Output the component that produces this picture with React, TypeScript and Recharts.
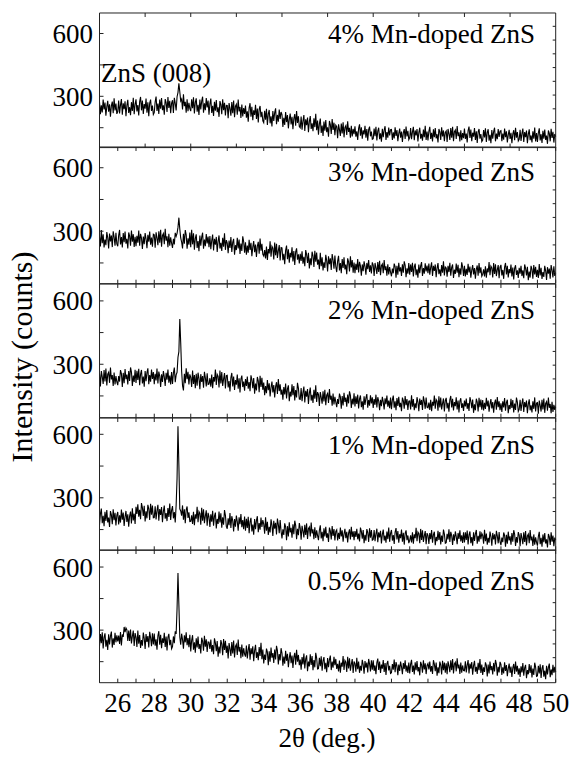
import { LineChart, Line, XAxis, YAxis } from 'recharts';

// 2θ grid: 25.00 .. 50.00 in 0.05° steps
const X_START = 25;
const X_STEP = 0.05;

// intensity (counts), one row per degree (20 points)
const mn4 = [
  273, 214, 257, 223, 285, 237, 270, 207, 250, 278, 226, 262, 203, 254, 275, 219, 290, 233, 265, 216,
  227, 280, 218, 259, 287, 212, 267, 239, 276, 205, 256, 283, 221, 248, 210, 272, 230, 293, 215, 261,
  286, 228, 258, 209, 275, 297, 233, 280, 216, 263, 241, 289, 222, 271, 205, 268, 284, 230, 256, 213,
  222, 274, 299, 230, 265, 216, 284, 241, 292, 234, 257, 212, 287, 270, 225, 296, 244, 279, 219, 267,
  281, 220, 293, 266, 232, 298, 318, 362, 322, 278, 287, 237, 310, 253, 274, 222, 286, 229, 269, 241,
  229, 286, 243, 295, 218, 271, 290, 226, 259, 211, 285, 237, 277, 298, 222, 266, 234, 292, 247, 280,
  212, 264, 289, 220, 255, 206, 274, 231, 282, 224, 247, 202, 277, 260, 215, 286, 234, 269, 209, 257,
  256, 195, 268, 241, 207, 273, 219, 280, 200, 253, 262, 212, 285, 228, 249, 197, 261, 204, 244, 216,
  256, 198, 228, 179, 245, 267, 203, 250, 186, 233, 211, 259, 192, 241, 175, 238, 254, 200, 226, 183,
  174, 231, 188, 240, 163, 216, 235, 171, 204, 156, 230, 182, 222, 243, 167, 211, 179, 237, 192, 225,
  213, 154, 197, 163, 225, 177, 210, 147, 190, 218, 166, 202, 143, 194, 215, 159, 230, 173, 205, 156,
  150, 203, 141, 182, 210, 135, 190, 162, 199, 128, 179, 206, 144, 171, 133, 195, 153, 216, 138, 184,
  117, 169, 194, 125, 160, 111, 179, 136, 187, 129, 152, 107, 182, 165, 120, 191, 139, 174, 114, 162,
  155, 100, 166, 141, 111, 170, 122, 176, 104, 152, 160, 115, 181, 130, 149, 102, 159, 108, 144, 119,
  157, 107, 133, 91, 147, 166, 112, 152, 97, 137, 118, 159, 102, 144, 88, 141, 155, 109, 131, 95,
  98, 146, 110, 154, 89, 134, 150, 95, 123, 83, 145, 105, 139, 157, 92, 129, 102, 151, 113, 141,
  142, 92, 128, 99, 152, 111, 139, 86, 122, 146, 102, 132, 82, 126, 143, 96, 156, 108, 135, 93,
  103, 148, 95, 130, 154, 90, 137, 113, 144, 84, 127, 150, 98, 121, 88, 141, 105, 159, 92, 132,
  89, 133, 154, 96, 126, 84, 142, 105, 148, 99, 119, 80, 144, 130, 92, 152, 108, 137, 86, 127,
  134, 82, 144, 121, 92, 148, 102, 154, 86, 131, 139, 96, 158, 110, 128, 84, 138, 90, 124, 100,
  146, 96, 122, 80, 136, 155, 101, 141, 86, 126, 107, 148, 91, 133, 77, 130, 144, 98, 120, 84,
  91, 139, 103, 147, 82, 127, 143, 88, 116, 76, 139, 98, 132, 150, 85, 122, 95, 144, 106, 134,
  136, 86, 122, 93, 146, 105, 133, 80, 116, 140, 96, 126, 76, 120, 138, 90, 150, 102, 129, 87,
  95, 140, 87, 122, 146, 82, 129, 105, 136, 76, 119, 142, 90, 113, 80, 133, 97, 151, 84, 124,
  82, 126, 147, 89, 119, 77, 135, 98, 141, 92, 112, 73, 137, 123, 85, 145, 101, 130, 79, 120,
  108,
];

const mn3 = [
  274, 228, 306, 243, 285, 223, 261, 234, 296, 269, 218, 289, 252, 280, 225, 300, 272, 231, 293, 240,
  229, 281, 306, 237, 272, 223, 291, 248, 299, 241, 264, 219, 294, 277, 232, 303, 251, 286, 226, 274,
  229, 278, 246, 303, 232, 288, 267, 216, 275, 239, 291, 263, 220, 283, 250, 298, 236, 270, 227, 286,
  283, 222, 295, 268, 234, 300, 246, 307, 227, 280, 289, 239, 312, 255, 276, 224, 288, 231, 271, 243,
  221, 264, 238, 292, 276, 290, 318, 364, 310, 268, 249, 219, 288, 241, 305, 283, 217, 266, 236, 294,
  224, 307, 238, 290, 213, 266, 285, 221, 254, 206, 280, 232, 272, 293, 217, 261, 229, 287, 242, 275,
  224, 277, 215, 256, 284, 209, 264, 236, 273, 202, 253, 280, 218, 245, 207, 269, 227, 290, 212, 258,
  244, 196, 256, 221, 273, 202, 247, 264, 189, 234, 211, 269, 218, 261, 193, 242, 207, 276, 251, 199,
  248, 189, 232, 198, 260, 212, 245, 182, 225, 253, 201, 237, 178, 229, 250, 194, 265, 208, 240, 191,
  183, 211, 171, 228, 164, 216, 195, 252, 179, 229, 220, 167, 247, 186, 240, 174, 208, 235, 162, 223,
  221, 163, 193, 144, 210, 232, 168, 215, 151, 198, 176, 224, 157, 206, 140, 203, 219, 165, 191, 148,
  193, 160, 205, 147, 179, 135, 211, 190, 150, 198, 124, 172, 139, 203, 184, 131, 208, 156, 199, 142,
  166, 120, 198, 135, 177, 115, 153, 126, 188, 161, 110, 181, 144, 172, 117, 192, 164, 123, 185, 132,
  107, 159, 184, 115, 150, 101, 169, 126, 177, 119, 142, 97, 172, 155, 110, 181, 129, 164, 104, 152,
  102, 146, 117, 169, 105, 155, 136, 90, 143, 111, 158, 133, 94, 150, 121, 164, 108, 139, 100, 153,
  140, 88, 150, 127, 98, 154, 108, 160, 92, 137, 145, 102, 164, 116, 134, 90, 144, 96, 130, 106,
  87, 123, 101, 147, 133, 80, 136, 94, 151, 110, 129, 89, 144, 104, 158, 139, 83, 125, 99, 149,
  95, 143, 107, 151, 86, 131, 147, 92, 120, 80, 143, 102, 136, 154, 89, 126, 99, 148, 110, 138,
  102, 147, 94, 129, 153, 89, 136, 112, 143, 83, 126, 149, 97, 120, 87, 140, 104, 158, 91, 131,
  126, 85, 136, 107, 151, 90, 129, 143, 79, 118, 98, 147, 104, 141, 83, 125, 95, 153, 132, 88,
  136, 86, 122, 93, 146, 105, 133, 80, 116, 140, 96, 126, 76, 120, 138, 90, 150, 102, 129, 87,
  96, 120, 86, 134, 80, 124, 106, 154, 92, 135, 127, 82, 150, 98, 144, 88, 117, 140, 78, 130,
  141, 91, 117, 75, 131, 150, 96, 136, 81, 121, 102, 143, 86, 128, 72, 125, 139, 93, 115, 79,
  127, 99, 137, 88, 115, 78, 143, 125, 91, 132, 69, 109, 81, 136, 120, 75, 140, 96, 132, 84,
  118, 79, 145, 91, 127, 74, 107, 84, 136, 113, 70, 130, 99, 123, 76, 140, 116, 81, 134, 89,
  101,
];

const mn2 = [
  256, 195, 268, 241, 207, 273, 219, 280, 200, 253, 262, 212, 285, 228, 249, 197, 261, 204, 244, 216,
  201, 244, 218, 272, 256, 193, 259, 210, 277, 229, 251, 204, 268, 221, 285, 263, 197, 246, 216, 274,
  212, 269, 226, 278, 201, 254, 273, 209, 242, 194, 268, 220, 260, 281, 205, 249, 217, 275, 230, 263,
  206, 255, 223, 280, 209, 265, 244, 193, 252, 216, 268, 240, 197, 260, 227, 275, 213, 247, 204, 263,
  207, 259, 284, 215, 250, 262, 333, 360, 514, 402, 268, 198, 176, 255, 210, 281, 229, 264, 204, 252,
  238, 192, 270, 207, 249, 187, 255, 198, 260, 233, 182, 253, 216, 244, 189, 264, 236, 195, 257, 204,
  206, 234, 194, 251, 187, 239, 218, 275, 202, 252, 243, 190, 270, 209, 263, 197, 231, 258, 185, 246,
  248, 190, 220, 171, 237, 259, 195, 242, 178, 225, 203, 251, 184, 233, 167, 230, 246, 192, 218, 175,
  230, 197, 242, 184, 216, 172, 248, 227, 187, 235, 161, 209, 176, 240, 221, 168, 245, 193, 236, 179,
  213, 154, 197, 163, 225, 177, 210, 147, 190, 218, 166, 202, 143, 194, 215, 159, 230, 173, 205, 156,
  180, 132, 192, 157, 209, 138, 183, 200, 125, 170, 147, 205, 154, 197, 129, 178, 143, 212, 187, 135,
  134, 187, 125, 166, 194, 119, 174, 146, 183, 112, 163, 190, 128, 155, 117, 179, 137, 200, 122, 168,
  157, 102, 168, 143, 113, 172, 124, 179, 106, 154, 162, 117, 183, 132, 151, 104, 161, 110, 146, 121,
  97, 135, 112, 161, 146, 90, 149, 105, 165, 122, 142, 99, 157, 115, 172, 153, 93, 137, 110, 162,
  100, 148, 112, 156, 91, 136, 152, 97, 125, 85, 148, 107, 141, 159, 94, 131, 104, 153, 115, 143,
  93, 135, 108, 156, 96, 144, 126, 82, 132, 102, 146, 122, 86, 139, 111, 152, 99, 128, 92, 142,
  87, 131, 152, 94, 124, 82, 140, 103, 146, 97, 117, 78, 142, 128, 90, 150, 106, 135, 84, 125,
  126, 86, 153, 99, 135, 82, 115, 92, 144, 121, 78, 138, 107, 131, 84, 148, 124, 89, 142, 97,
  94, 118, 84, 132, 78, 122, 104, 152, 90, 133, 125, 80, 148, 96, 142, 86, 115, 138, 76, 128,
  141, 91, 117, 75, 131, 150, 96, 136, 81, 121, 102, 143, 86, 128, 72, 125, 139, 93, 115, 79,
  128, 100, 138, 89, 116, 79, 144, 126, 92, 133, 70, 110, 82, 137, 121, 76, 141, 97, 133, 85,
  131, 81, 117, 88, 141, 100, 128, 75, 111, 135, 91, 121, 71, 115, 133, 85, 145, 97, 124, 82,
  115, 74, 125, 96, 140, 80, 118, 132, 68, 107, 87, 136, 93, 130, 72, 114, 84, 142, 121, 77,
  87, 132, 79, 114, 138, 74, 121, 97, 128, 68, 111, 134, 82, 105, 72, 125, 89, 143, 76, 116,
  118, 66, 128, 105, 76, 132, 86, 138, 70, 115, 123, 80, 142, 94, 112, 68, 122, 74, 108, 84,
  98,
];

const mn1 = [
  172, 224, 249, 180, 215, 166, 234, 191, 242, 184, 207, 162, 237, 220, 175, 246, 194, 229, 169, 217,
  233, 174, 217, 183, 245, 197, 230, 167, 210, 238, 186, 222, 163, 214, 235, 179, 250, 193, 225, 176,
  257, 224, 269, 211, 243, 199, 275, 254, 214, 262, 188, 236, 203, 267, 248, 195, 272, 220, 263, 206,
  207, 260, 198, 239, 267, 192, 247, 219, 256, 185, 236, 263, 201, 228, 190, 252, 210, 273, 195, 241,
  261, 203, 233, 184, 265, 392, 638, 455, 248, 238, 216, 264, 197, 246, 180, 243, 259, 205, 231, 188,
  189, 217, 177, 234, 170, 222, 201, 258, 185, 235, 226, 173, 253, 192, 246, 180, 214, 241, 168, 229,
  210, 162, 222, 187, 239, 168, 213, 230, 155, 200, 177, 235, 184, 227, 159, 208, 173, 242, 217, 165,
  154, 203, 171, 228, 157, 213, 192, 141, 200, 164, 216, 188, 145, 208, 175, 223, 161, 195, 152, 211,
  144, 201, 158, 210, 133, 186, 205, 141, 174, 126, 200, 152, 192, 213, 137, 181, 149, 207, 162, 195,
  176, 130, 208, 145, 187, 125, 163, 136, 198, 171, 120, 191, 154, 182, 127, 202, 174, 133, 195, 142,
  108, 151, 125, 179, 163, 100, 166, 117, 184, 136, 158, 111, 175, 128, 192, 170, 104, 153, 123, 181,
  157, 102, 168, 143, 113, 172, 124, 179, 106, 154, 162, 117, 183, 132, 151, 104, 161, 110, 146, 121,
  100, 147, 170, 108, 139, 95, 156, 117, 163, 111, 132, 91, 159, 144, 103, 167, 120, 152, 98, 141,
  149, 99, 135, 106, 159, 118, 146, 93, 129, 153, 109, 139, 89, 133, 151, 103, 163, 115, 142, 100,
  143, 115, 153, 104, 131, 94, 159, 141, 107, 148, 85, 125, 97, 152, 136, 91, 156, 112, 148, 100,
  103, 148, 95, 130, 154, 90, 137, 113, 144, 84, 127, 150, 98, 121, 88, 141, 105, 159, 92, 132,
  148, 98, 124, 82, 138, 157, 103, 143, 88, 128, 109, 150, 93, 135, 79, 132, 146, 100, 122, 86,
  99, 123, 89, 137, 83, 127, 109, 158, 95, 138, 130, 85, 153, 101, 147, 91, 120, 143, 81, 133,
  123, 82, 133, 104, 148, 88, 126, 140, 76, 115, 95, 144, 101, 138, 80, 122, 92, 150, 129, 85,
  88, 130, 103, 151, 91, 139, 121, 77, 127, 97, 141, 117, 81, 134, 106, 147, 94, 123, 87, 137,
  89, 137, 101, 145, 80, 125, 141, 86, 114, 74, 137, 96, 130, 148, 83, 120, 93, 142, 104, 132,
  122, 83, 149, 95, 131, 78, 111, 88, 140, 117, 74, 134, 103, 127, 80, 144, 120, 85, 138, 93,
  76, 112, 90, 136, 122, 69, 125, 83, 140, 99, 118, 78, 133, 93, 147, 128, 72, 114, 88, 138,
  123, 71, 133, 110, 81, 137, 91, 143, 75, 120, 128, 85, 148, 99, 117, 73, 127, 79, 113, 89,
  74, 118, 139, 81, 111, 69, 127, 90, 133, 84, 104, 65, 129, 115, 77, 137, 93, 122, 71, 112,
  100,
];

const mn05 = [
  224, 281, 238, 290, 213, 266, 285, 221, 254, 206, 280, 232, 272, 293, 217, 261, 229, 287, 242, 275,
  246, 274, 234, 291, 227, 279, 268, 315, 290, 310, 301, 248, 298, 249, 303, 237, 271, 298, 225, 286,
  266, 220, 298, 235, 277, 215, 253, 226, 288, 261, 210, 281, 244, 272, 217, 292, 264, 223, 285, 232,
  284, 226, 256, 207, 273, 295, 231, 278, 214, 261, 239, 287, 220, 269, 203, 266, 282, 228, 254, 211,
  221, 270, 238, 295, 282, 403, 572, 420, 267, 231, 283, 255, 212, 275, 242, 290, 228, 262, 219, 278,
  199, 251, 276, 207, 242, 193, 261, 218, 269, 211, 234, 189, 264, 247, 202, 273, 221, 256, 196, 244,
  243, 210, 255, 197, 229, 185, 261, 240, 200, 248, 174, 222, 189, 253, 234, 181, 258, 206, 249, 192,
  226, 165, 238, 211, 177, 243, 189, 250, 170, 223, 232, 182, 255, 198, 219, 167, 231, 174, 214, 186,
  174, 227, 165, 206, 234, 159, 214, 186, 223, 152, 203, 230, 168, 195, 157, 219, 177, 240, 162, 208,
  141, 184, 158, 212, 196, 133, 199, 150, 217, 169, 191, 144, 208, 161, 225, 203, 137, 186, 156, 214,
  190, 131, 174, 140, 202, 154, 187, 124, 167, 195, 143, 179, 120, 171, 192, 136, 207, 150, 182, 133,
  160, 112, 172, 137, 189, 118, 163, 180, 105, 150, 127, 185, 134, 177, 109, 158, 123, 192, 167, 115,
  117, 168, 129, 176, 107, 154, 172, 114, 144, 100, 167, 124, 160, 179, 110, 150, 121, 173, 133, 163,
  115, 140, 104, 155, 98, 145, 126, 177, 111, 156, 148, 101, 173, 118, 166, 107, 137, 162, 96, 151,
  141, 102, 168, 114, 150, 97, 130, 107, 159, 136, 93, 153, 122, 146, 99, 163, 139, 104, 157, 112,
  156, 106, 132, 90, 146, 165, 111, 151, 96, 136, 117, 158, 101, 143, 87, 140, 154, 108, 130, 94,
  97, 139, 112, 160, 100, 148, 130, 86, 136, 106, 150, 126, 90, 143, 115, 156, 103, 132, 96, 146,
  94, 138, 159, 101, 131, 89, 147, 110, 153, 104, 124, 85, 149, 135, 97, 157, 113, 142, 91, 132,
  141, 113, 151, 102, 129, 92, 157, 139, 105, 146, 83, 123, 95, 150, 134, 89, 154, 110, 146, 98,
  142, 90, 152, 129, 100, 156, 110, 162, 94, 139, 147, 104, 166, 118, 136, 92, 146, 98, 132, 108,
  107, 152, 99, 134, 158, 94, 141, 117, 148, 88, 131, 154, 102, 125, 92, 145, 109, 163, 96, 136,
  87, 123, 101, 147, 133, 80, 136, 94, 151, 110, 129, 89, 144, 104, 158, 139, 83, 125, 99, 149,
  137, 87, 123, 94, 147, 106, 134, 81, 117, 141, 97, 127, 77, 121, 139, 91, 151, 103, 130, 88,
  118, 77, 128, 99, 143, 83, 121, 135, 71, 110, 90, 139, 96, 133, 75, 117, 87, 145, 124, 80,
  82, 130, 94, 138, 73, 118, 134, 79, 107, 67, 130, 89, 123, 141, 76, 113, 86, 135, 97, 125,
  100,
];

const panelLabels = ['4% Mn-doped ZnS', '3% Mn-doped ZnS', '2% Mn-doped ZnS', '1% Mn-doped ZnS', '0.5% Mn-doped ZnS'];
const yTicks = [150, 300, 450, 600];
const yTickLabels = [300, 600];
const xTicksMinor = Array.from({ length: 26 }, (_, i) => 25 + i);
const xTicksCoarse = [27.5, 30, 32.5, 35, 37.5, 40, 42.5, 45, 47.5];

const FONT = '"Liberation Serif", Tinos, "Times New Roman", "DejaVu Serif", serif';
const FS = 27;
const AXIS = '#222';
const LEFT = 99.5;
const RIGHT_PAD = 13.3;
const R_STEP = 13.75; // px between right-hand ticks

const panels = [
  { values: mn4, top: 12.7, height: 134.6, domain: [55, 698], coarse: true, labelY: 44 },
  { values: mn3, top: 147.3, height: 136.7, domain: [52, 698], coarse: false, labelY: 182 },
  { values: mn2, top: 284, height: 133.7, domain: [47, 680], coarse: false, labelY: 320 },
  { values: mn1, top: 417.7, height: 132.3, domain: [52, 677], coarse: false, labelY: 455 },
  { values: mn05, top: 550, height: 132.7, domain: [50, 681], coarse: false, labelY: 591 },
];

const toRows = (vals: number[]) =>
  vals.map((v, i) => ({ x: Math.round((X_START + i * X_STEP) * 100) / 100, y: v }));

const textStyle = { fontFamily: FONT, fontSize: FS, fill: '#000' };

function Panel({ p, last }: { p: (typeof panels)[number]; last: boolean }) {
  // axes take 1px each; plot area starts padTop + 1 below the div top
  const padTop = 5;
  const padBottom = last ? 60 : 5;
  const rMax = p.height / R_STEP;
  const rTicks = Array.from({ length: Math.floor(rMax) }, (_, i) => 0.82 + i);
  const xt = p.coarse ? xTicksCoarse : xTicksMinor;
  return (
    <div style={{ position: 'absolute', left: 0, top: p.top - padTop - 1 }}>
      <LineChart
        width={570}
        height={p.height + padTop + padBottom + 2}
        data={toRows(p.values)}
        margin={{ top: padTop, bottom: padBottom, left: 0, right: RIGHT_PAD }}
        style={{ fontFamily: FONT }}
      >
        <XAxis
          dataKey="x"
          type="number"
          domain={[25, 50]}
          ticks={xt}
          interval={0}
          height={1}
          tickSize={-4}
          tickMargin={last ? 14 : 0}
          tickFormatter={(v: number) => (last && v % 2 === 0 ? String(v) : '')}
          tick={textStyle}
          axisLine={{ stroke: AXIS }}
          tickLine={{ stroke: AXIS }}
        />
        <XAxis
          xAxisId="top"
          dataKey="x"
          orientation="top"
          type="number"
          domain={[25, 50]}
          ticks={xt}
          interval={0}
          height={1}
          tickSize={-4}
          tickFormatter={() => ''}
          axisLine={{ stroke: AXIS }}
          tickLine={{ stroke: AXIS }}
        />
        <YAxis
          type="number"
          domain={p.domain}
          ticks={yTicks}
          interval={0}
          width={LEFT}
          tickSize={-4}
          tickMargin={10.5}
          tickFormatter={(v: number) => (yTickLabels.includes(v) ? String(v) : '')}
          tick={textStyle}
          axisLine={{ stroke: AXIS }}
          tickLine={{ stroke: AXIS }}
        />
        <YAxis
          yAxisId="r"
          orientation="right"
          type="number"
          domain={[0, rMax]}
          allowDataOverflow
          ticks={rTicks}
          interval={0}
          width={1}
          tickSize={-3}
          tickFormatter={() => ''}
          axisLine={{ stroke: AXIS }}
          tickLine={{ stroke: AXIS }}
        />
        <Line
          type="linear"
          dataKey="y"
          stroke="#000"
          strokeWidth={1.1}
          dot={false}
          isAnimationActive={false}
        />
        {/* keeps the top / right frame axes bound to a series */}
        <Line
          xAxisId="top"
          yAxisId="r"
          dataKey="y"
          stroke="none"
          dot={false}
          activeDot={false}
          isAnimationActive={false}
        />
      </LineChart>
    </div>
  );
}

const labelBase = {
  position: 'absolute' as const,
  fontFamily: FONT,
  fontSize: FS,
  lineHeight: `${FS}px`,
  color: '#000',
  whiteSpace: 'nowrap' as const,
};

export default function App() {
  return (
    <div
      style={{
        position: 'absolute',
        left: 0,
        top: 0,
        width: 570,
        height: 757,
        background: '#fff',
        fontFamily: FONT,
      }}
    >
      {panels.map((p, i) => (
        <Panel key={i} p={p} last={i === panels.length - 1} />
      ))}
      {panels.map((p, i) => (
        <div key={'l' + i} style={{ ...labelBase, right: 35, top: p.labelY - 23 }}>
          {panelLabels[i]}
        </div>
      ))}
      <div style={{ ...labelBase, left: 101, top: 83 - 23 }}>ZnS (008)</div>
      <div
        style={{
          ...labelBase,
          fontSize: 30,
          lineHeight: '30px',
          left: 22 - 150,
          top: 357 - 15,
          width: 300,
          textAlign: 'center',
          transform: 'rotate(-90deg)',
        }}
      >
        Intensity (counts)
      </div>
      <div style={{ ...labelBase, left: 327 - 100, width: 200, textAlign: 'center', top: 748 - 23 }}>
        2θ (deg.)
      </div>
    </div>
  );
}
